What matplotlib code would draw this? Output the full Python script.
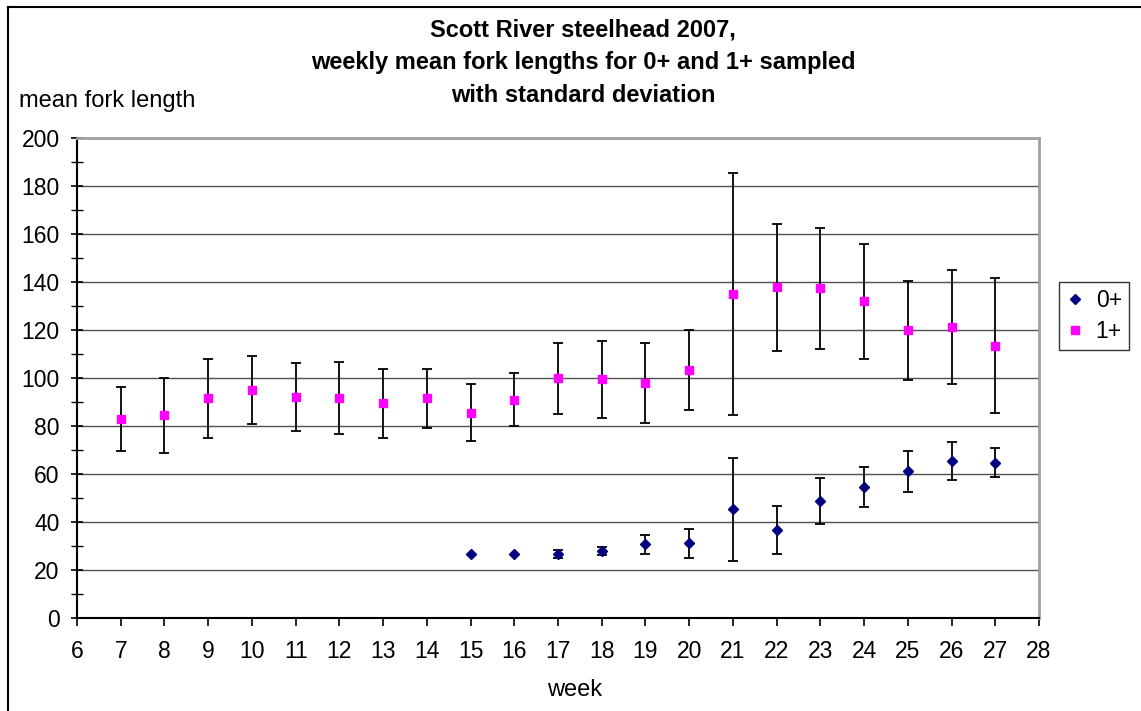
import numpy as np
import matplotlib
matplotlib.use("Agg")
import matplotlib.pyplot as plt
from matplotlib.lines import Line2D
from matplotlib.ticker import MultipleLocator

plt.rcParams['font.family'] = ['Liberation Sans', 'DejaVu Sans']

# Weekly mean fork length (mm) and standard deviation
weeks_0 = [15, 16, 17, 18, 19, 20, 21, 22, 23, 24, 25, 26, 27]
mean_0 = [26.8, 26.8, 26.8, 27.8, 30.7, 31.2, 45.3, 36.8, 48.7, 54.7, 61.2, 65.3, 64.7]
sd_0 = [np.nan, np.nan, 1.6, 1.6, 4.0, 6.0, 21.4, 10.0, 9.7, 8.3, 8.5, 8.0, 6.0]

weeks_1 = list(range(7, 28))
mean_1 = [82.9, 84.4, 91.5, 95.0, 92.0, 91.5, 89.4, 91.5, 85.5, 91.0, 99.9,
          99.4, 97.9, 103.3, 134.9, 137.8, 137.4, 131.9, 119.9, 121.4, 113.5]
sd_1 = [13.4, 15.5, 16.4, 14.0, 14.2, 15.0, 14.4, 12.4, 11.8, 11.2, 14.8,
        16.2, 16.5, 16.6, 50.4, 26.4, 25.2, 24.0, 20.7, 23.7, 28.0]

labels = ['0+', '1+']
colors = ['#000080', '#FF00FF']

W, H = 1141, 711
fig = plt.figure(figsize=(W / 100, H / 100), dpi=100)
ax = fig.add_axes([77 / W, (H - 618) / H, 962 / W, 480 / H])

ax.errorbar(weeks_0, mean_0, yerr=sd_0, fmt='none', ecolor='black',
            elinewidth=1.3, capsize=3.4, capthick=1.3, zorder=3)
ax.errorbar(weeks_1, mean_1, yerr=sd_1, fmt='none', ecolor='black',
            elinewidth=1.3, capsize=3.4, capthick=1.3, zorder=3)
ax.plot(weeks_0, mean_0, linestyle='none', marker='D', ms=5.5,
        color=colors[0], mec=colors[0], zorder=4)
ax.plot(weeks_1, mean_1, linestyle='none', marker='s', ms=5.8,
        color=colors[1], mec=colors[1], zorder=4)

ax.set_xlim(6, 28)
ax.set_ylim(0, 200)
ax.xaxis.set_major_locator(MultipleLocator(1))
ax.yaxis.set_major_locator(MultipleLocator(20))
ax.yaxis.set_minor_locator(MultipleLocator(10))
ax.grid(axis='y', which='major', color='#505050', linewidth=1.0, zorder=1)
ax.set_axisbelow(True)

ax.tick_params(axis='x', which='major', direction='out', length=6, width=1.2,
               pad=10, labelsize=16.5, color='black')
ax.tick_params(axis='y', which='major', direction='inout', length=9, width=1.2,
               pad=8, labelsize=16.5, color='black')
ax.tick_params(axis='y', which='minor', direction='inout', length=8, width=1.0,
               color='black')

for side in ('left', 'bottom'):
    ax.spines[side].set_color('black')
    ax.spines[side].set_linewidth(1.5)
for side in ('top', 'right'):
    ax.spines[side].set_color('#a0a0a0')
    ax.spines[side].set_linewidth(2)

fig.text(583 / W, 1 - 19 / H,
         'Scott River steelhead 2007,\nweekly mean fork lengths for 0+ and 1+ sampled\nwith standard deviation',
         ha='center', va='top', fontsize=17, fontweight='bold', linespacing=1.52)
fig.text(19 / W, 1 - 101 / H, 'mean fork length', ha='left', va='center', fontsize=17)
fig.text(575 / W, 1 - 690 / H, 'week', ha='center', va='center', fontsize=17)

handles = [Line2D([], [], linestyle='none', marker='D', ms=5.5, color=colors[0]),
           Line2D([], [], linestyle='none', marker='s', ms=5.8, color=colors[1])]
leg = fig.legend(handles, labels, loc='upper left',
                 bbox_to_anchor=(1059 / W, 1 - 282 / H), frameon=True,
                 fancybox=False, edgecolor='black', fontsize=16.5,
                 handlelength=0.8, handletextpad=0.5, borderpad=0.3,
                 labelspacing=0.35, borderaxespad=0)
leg.get_frame().set_linewidth(1.0)

# outer chart frame
fig.add_artist(Line2D([8 / W, 8 / W], [0, 1 - 7 / H], color='black', lw=1.5))
fig.add_artist(Line2D([8 / W, 1], [1 - 7 / H, 1 - 7 / H], color='black', lw=1.5))

fig.savefig('out.png', dpi=100)
